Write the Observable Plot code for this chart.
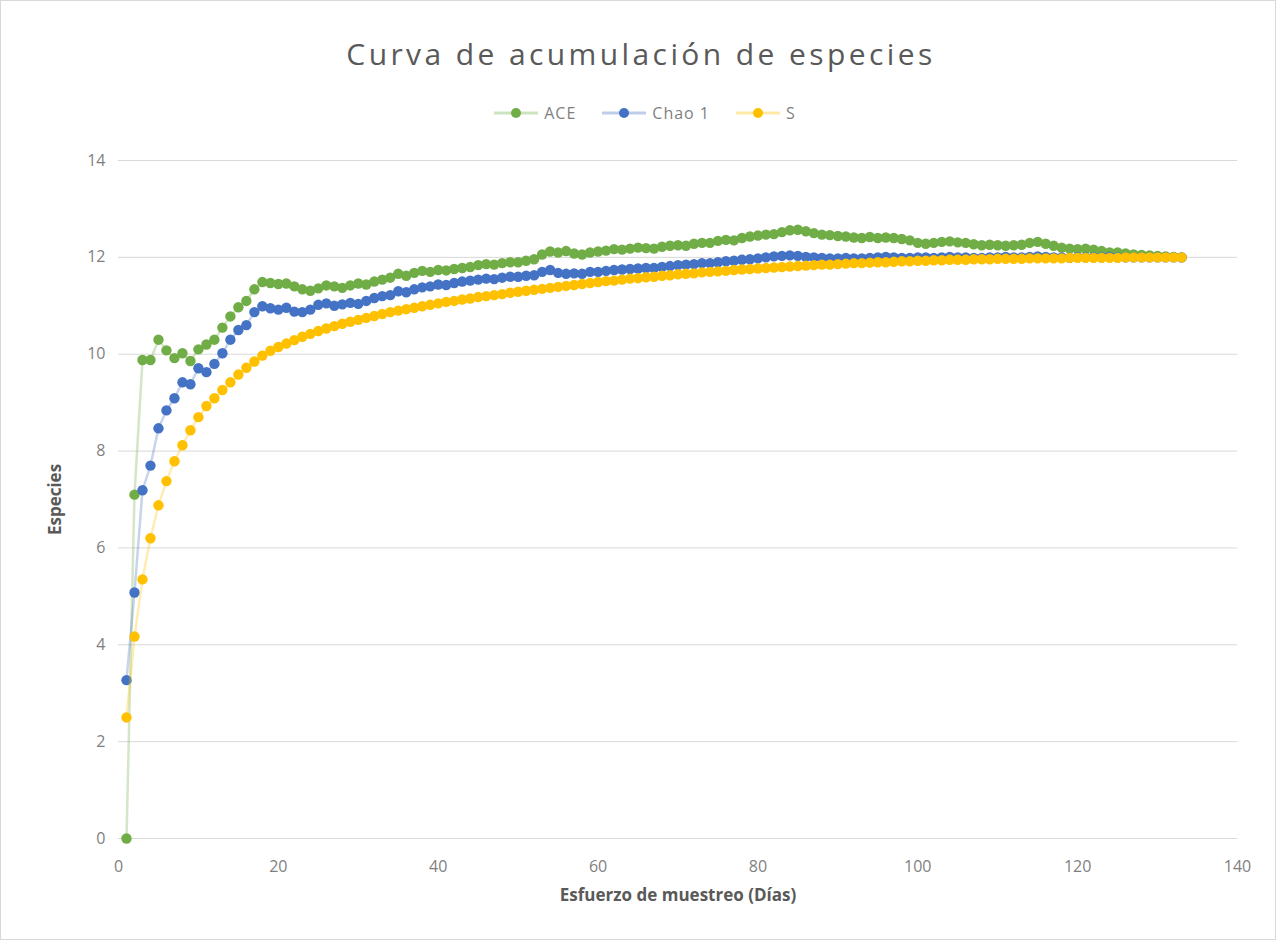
<!DOCTYPE html>
<html>
<head>
<meta charset="utf-8">
<script src="https://cdn.jsdelivr.net/npm/d3@7"></script>
<script src="https://cdn.jsdelivr.net/npm/@observablehq/plot@0.6"></script>
<style>
  html, body { margin: 0; padding: 0; background: #ffffff; }
  #chart {
    width: 1274px; height: 938px; border: 1px solid #d9d9d9;
    font-family: "Open Sans", "Noto Sans", sans-serif; color: #595959; position: relative;
  }
  #title {
    height: 90px; line-height: 106px; text-align: center; padding-left: 6px;
    font-size: 30px; letter-spacing: 3.4px; color: #595959;
  }
  #legend {
    height: 45px; display: flex; justify-content: center; align-items: flex-start;
    gap: 26px; font-size: 16px; letter-spacing: 1px; color: #7f7f7f; padding-left: 14px; box-sizing: border-box;
  }
  #legend .item { display: flex; align-items: center; gap: 6px; height: 44px; }
  #legend svg { display: block; }
</style>
</head>
<body>
<div id="chart">
  <div id="title">Curva de acumulación de especies</div>
  <div id="legend"></div>
  <div id="plot"></div>
</div>
<script>
// Sampling days 1..133
const days = d3.range(1, 134);

const ace = [
  0, 7.1, 9.88, 9.88, 10.3, 10.08, 9.92, 10.02, 9.86, 10.1,
  10.2, 10.3, 10.55, 10.78, 10.97, 11.1, 11.34, 11.49, 11.47, 11.45,
  11.46, 11.4, 11.34, 11.31, 11.36, 11.42, 11.4, 11.37, 11.42, 11.46,
  11.44, 11.5, 11.54, 11.58, 11.66, 11.62, 11.68, 11.72, 11.7, 11.74,
  11.73, 11.76, 11.78, 11.8, 11.84, 11.86, 11.85, 11.88, 11.9, 11.9,
  11.93, 11.96, 12.06, 12.12, 12.1, 12.13, 12.08, 12.06, 12.1, 12.12,
  12.14, 12.17, 12.16, 12.18, 12.2, 12.19, 12.18, 12.22, 12.24, 12.25,
  12.24, 12.28, 12.3, 12.3, 12.34, 12.36, 12.35, 12.4, 12.43, 12.45,
  12.47, 12.48, 12.52, 12.56, 12.57, 12.54, 12.5, 12.47, 12.46, 12.44,
  12.43, 12.41, 12.4, 12.42, 12.4, 12.41, 12.4, 12.38, 12.35, 12.3,
  12.28, 12.3, 12.32, 12.33, 12.31, 12.3, 12.27, 12.25, 12.26, 12.25,
  12.24, 12.25, 12.26, 12.3, 12.32, 12.28, 12.24, 12.2, 12.18, 12.17,
  12.18, 12.16, 12.13, 12.1, 12.1, 12.08, 12.06, 12.05, 12.04, 12.03,
  12.02, 12.01, 12.0
];

const chao1 = [
  3.27, 5.08, 7.19, 7.7, 8.47, 8.84, 9.09, 9.42, 9.38, 9.71,
  9.63, 9.8, 10.02, 10.3, 10.5, 10.6, 10.87, 10.99, 10.95, 10.92,
  10.96, 10.88, 10.87, 10.92, 11.02, 11.05, 11.0, 11.03, 11.06, 11.04,
  11.1, 11.16, 11.2, 11.22, 11.3, 11.28, 11.34, 11.38, 11.4, 11.44,
  11.43, 11.47, 11.5, 11.52, 11.54, 11.56, 11.55, 11.58, 11.6, 11.6,
  11.62, 11.63, 11.7, 11.74, 11.68, 11.66, 11.67, 11.66, 11.7, 11.7,
  11.72, 11.74, 11.75, 11.76, 11.77, 11.78, 11.78, 11.8, 11.82, 11.84,
  11.85, 11.86, 11.88, 11.88, 11.9, 11.92, 11.93, 11.95, 11.96, 11.98,
  12.0, 12.02, 12.03, 12.04, 12.03, 12.01, 12.0, 11.99, 11.98, 11.98,
  11.99, 11.98, 11.98, 11.99, 12.0, 12.01, 12.0, 11.99, 11.99, 12.0,
  12.0, 11.99, 12.0, 12.01, 12.0, 12.0, 11.99, 11.99, 12.0, 12.0,
  12.01, 12.0, 12.0, 12.01, 12.02, 12.01, 12.0, 12.0, 11.99, 12.0,
  12.0, 12.0, 12.0, 12.01, 12.0, 12.0, 12.0, 12.0, 12.0, 12.0,
  12.0, 12.0, 12.0
];

const s = [
  2.5, 4.17, 5.35, 6.2, 6.88, 7.38, 7.79, 8.12, 8.43, 8.7,
  8.93, 9.09, 9.26, 9.42, 9.58, 9.72, 9.85, 9.97, 10.07, 10.15,
  10.22, 10.29, 10.36, 10.42, 10.48, 10.53, 10.58, 10.63, 10.67, 10.71,
  10.75, 10.79, 10.83, 10.87, 10.9, 10.93, 10.96, 10.99, 11.02, 11.05,
  11.08, 11.1, 11.13, 11.15, 11.18, 11.2, 11.22, 11.24, 11.27, 11.29,
  11.31, 11.33, 11.35, 11.37, 11.39, 11.41, 11.43, 11.45, 11.47, 11.49,
  11.51, 11.52, 11.54, 11.56, 11.57, 11.59, 11.6, 11.62, 11.63, 11.65,
  11.66, 11.67, 11.69, 11.7, 11.71, 11.72, 11.74, 11.75, 11.76, 11.77,
  11.78, 11.79, 11.8, 11.81, 11.82, 11.83, 11.84, 11.85, 11.85, 11.86,
  11.87, 11.88, 11.88, 11.89, 11.9, 11.9, 11.91, 11.92, 11.92, 11.93,
  11.93, 11.94, 11.94, 11.95, 11.95, 11.95, 11.96, 11.96, 11.96, 11.97,
  11.97, 11.97, 11.97, 11.98, 11.98, 11.98, 11.98, 11.98, 11.99, 11.99,
  11.99, 11.99, 11.99, 11.99, 11.99, 12.0, 12.0, 12.0, 12.0, 12.0,
  12.0, 12.0, 12.0
];

const seriesNames = ["ACE", "Chao 1", "S"];
const seriesColors = ["#70ad47", "#4472c4", "#ffc000"];
const seriesValues = [ace, chao1, s];

const xTicks = [0, 20, 40, 60, 80, 100, 120, 140];
const yTicks = [0, 2, 4, 6, 8, 10, 12, 14];
const xTitle = "Esfuerzo de muestreo (Días)";
const yTitle = "Especies";

// Long table: one row per series and day
const rows = seriesNames.flatMap((name, i) =>
  days.map((d, j) => ({series: name, day: d, value: seriesValues[i][j]}))
);

// Legend swatches: pale line with a solid marker
const legend = document.getElementById("legend");
seriesNames.forEach((name, i) => {
  const item = document.createElement("div");
  item.className = "item";
  item.innerHTML =
    `<svg width="44" height="12"><line x1="0" x2="44" y1="6" y2="6" stroke="${seriesColors[i]}" stroke-opacity="0.35" stroke-width="3"/>` +
    `<circle cx="22" cy="6" r="5" fill="${seriesColors[i]}"/></svg><span>${name}</span>`;
  legend.appendChild(item);
});

const marks = [
  Plot.gridY(yTicks, {stroke: "#d9d9d9", strokeOpacity: 1, strokeWidth: 1}),
  Plot.axisY(yTicks, {tickSize: 0, tickPadding: 13, fontSize: 16, letterSpacing: "0.8px", color: "#7f7f7f", label: null}),
  Plot.axisX(xTicks, {tickSize: 0, tickPadding: 22, fontSize: 16, letterSpacing: "0.8px", color: "#7f7f7f", label: null}),
  Plot.text([xTitle], {frameAnchor: "bottom", dy: 62, text: d => d, fontSize: 17, fontWeight: "bold", fill: "#595959", letterSpacing: "2px"}),
  Plot.text([yTitle], {frameAnchor: "left", dx: -63, rotate: -90, textAnchor: "middle", text: d => d, fontSize: 17, fontWeight: "bold", fill: "#595959", letterSpacing: "2px"})
];

seriesNames.forEach((name, i) => {
  const data = rows.filter(r => r.series === name);
  marks.push(Plot.line(data, {x: "day", y: "value", stroke: seriesColors[i], strokeOpacity: 0.3, strokeWidth: 2.5}));
  marks.push(Plot.dot(data, {x: "day", y: "value", fill: seriesColors[i], r: 5.2}));
});

const chart = Plot.plot({
  width: 1274,
  height: 803,
  marginTop: 24,
  marginLeft: 117,
  marginRight: 38,
  marginBottom: 101,
  style: {fontFamily: "'Open Sans', 'Noto Sans', sans-serif", background: "transparent"},
  x: {domain: [0, 140]},
  y: {domain: [0, 14]},
  marks
});
document.getElementById("plot").appendChild(chart);
</script>
</body>
</html>
